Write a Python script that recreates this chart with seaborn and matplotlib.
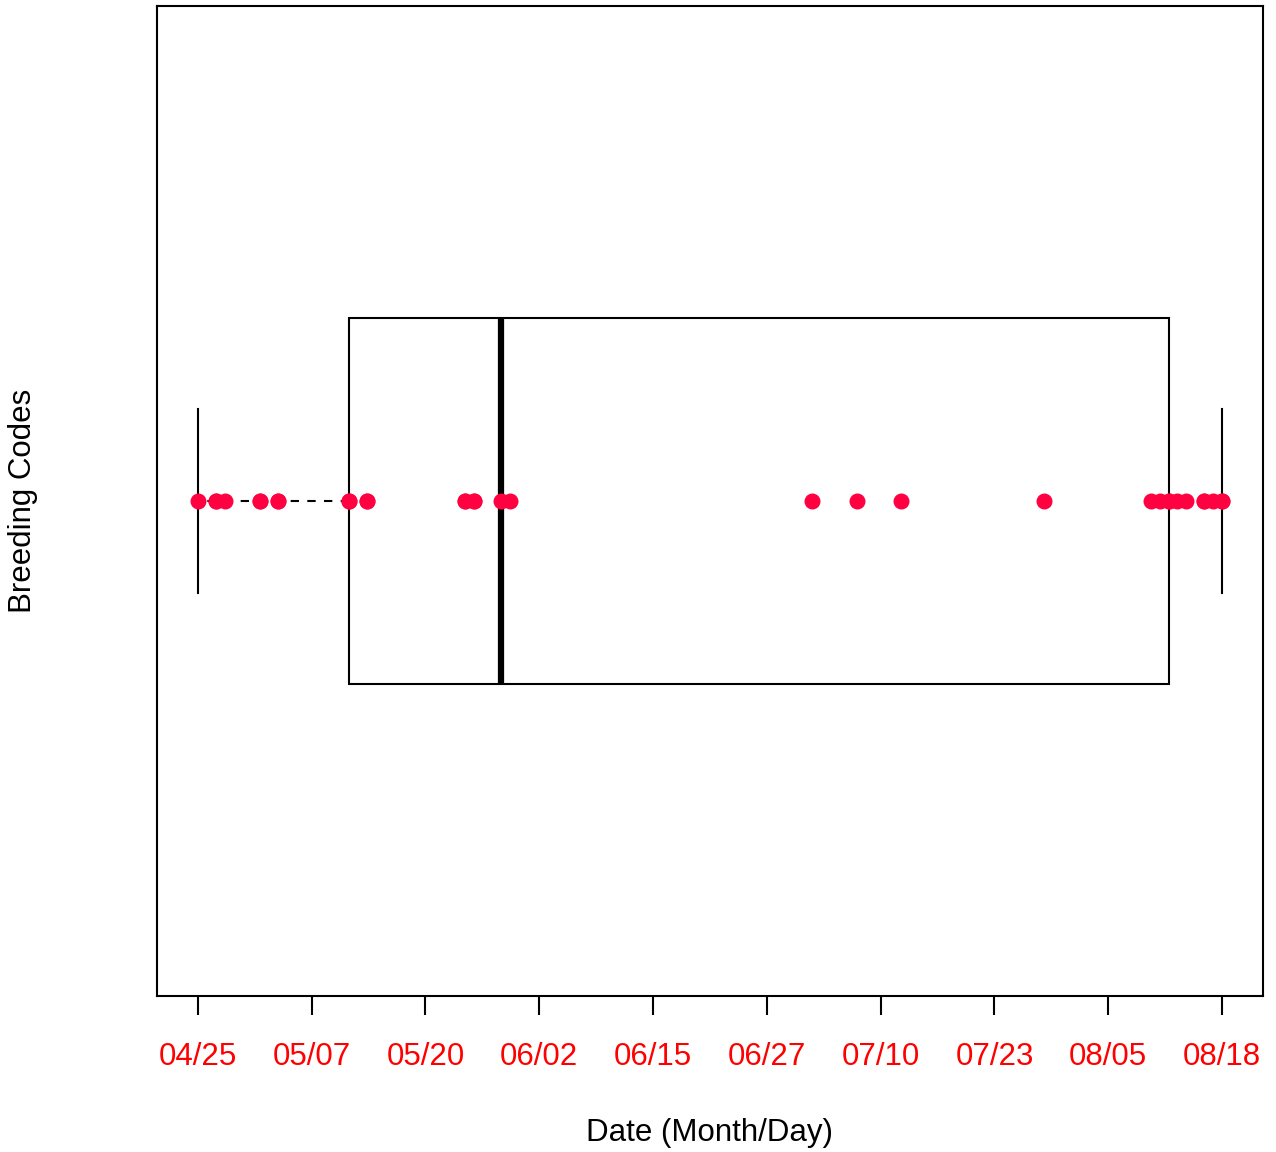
import numpy as np
import pandas as pd
import seaborn as sns
import matplotlib.pyplot as plt

# Observation dates (year is arbitrary, only month/day matter)
dates = ['2020-04-25', '2020-04-27', '2020-04-27', '2020-04-28', '2020-05-02',
         '2020-05-02', '2020-05-04', '2020-05-04', '2020-05-12', '2020-05-12',
         '2020-05-14', '2020-05-14', '2020-05-25', '2020-05-25', '2020-05-26',
         '2020-05-26', '2020-05-29', '2020-05-30', '2020-07-03', '2020-07-08',
         '2020-07-13', '2020-07-29', '2020-08-10', '2020-08-11', '2020-08-12',
         '2020-08-12', '2020-08-13', '2020-08-14', '2020-08-16', '2020-08-16',
         '2020-08-17', '2020-08-18', '2020-08-18']
tick_labels = ['04/25', '05/07', '05/20', '06/02', '06/15',
               '06/27', '07/10', '07/23', '08/05', '08/18']

d = pd.to_datetime(pd.Series(dates))
start = d.min()
data = pd.DataFrame({'day': (d - start).dt.days, 'grp': 'Breeding Codes'})

plt.rcParams['font.family'] = ['Liberation Sans', 'DejaVu Sans']
fig = plt.figure(figsize=(12.76, 11.52), dpi=100)
ax = fig.add_axes([0.123, 0.1354, 0.8668, 0.8594])

sns.boxplot(data=data, x='day', y='grp', orient='h', whis=(0, 100), width=0.4,
            color='white', linecolor='black', linewidth=1.5, fliersize=0,
            medianprops={'linewidth': 4.5},
            whiskerprops={'linestyle': (0, (4, 4))},
            ax=ax)
sns.stripplot(data=data, x='day', y='grp', orient='h', jitter=False,
              color='#FF0040', size=11.5, linewidth=0, zorder=5, ax=ax)

dmax = data['day'].max()
rng = dmax - data['day'].min()
ax.set_xlim(-0.04 * rng, dmax + 0.04 * rng)
ax.set_ylim(0.54, -0.54)
ax.set_xticks(np.linspace(0, dmax, len(tick_labels)))
ax.set_xticklabels(tick_labels, color='red', fontsize=22.5)
ax.tick_params(axis='x', length=14, width=1.5, pad=19)
ax.set_yticks([])
ax.set_xlabel('Date (Month/Day)', fontsize=22.5, labelpad=33)
ax.set_ylabel('Breeding Codes', fontsize=22.5, labelpad=86)
for s in ax.spines.values():
    s.set_linewidth(1.5)

plt.savefig('out.png', dpi=100)
